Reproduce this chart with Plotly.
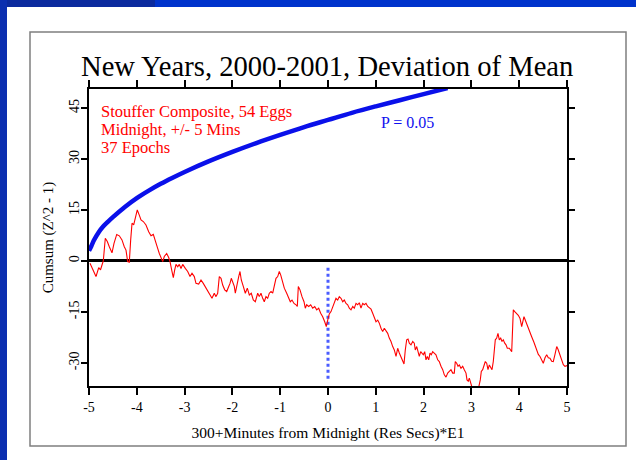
import plotly.graph_objects as go

# ---------------- data ----------------
# red cumulative deviation trace (x in minutes from midnight)
red_x = [-4.979, -4.937, -4.895, -4.854, -4.797, -4.759, -4.728, -4.701, -4.659, -4.617, -4.575,
         -4.519, -4.477, -4.420, -4.366, -4.310, -4.262, -4.226, -4.191, -4.157, -4.128, -4.100,
         -4.065, -4.031, -3.990, -3.948, -3.912, -3.864, -3.808, -3.751, -3.703, -3.655, -3.613,
         -3.563, -3.529, -3.494, -3.458, -3.425, -3.375, -3.333, -3.305, -3.264, -3.236, -3.207,
         -3.180, -3.144, -3.111, -3.075, -3.040, -2.985, -2.935, -2.887, -2.845, -2.797, -2.762,
         -2.705, -2.657, -2.609, -2.552, -2.483, -2.427, -2.379, -2.343, -2.308, -2.274, -2.238,
         -2.203, -2.161, -2.119, -2.077, -2.050, -2.023, -1.994, -1.960, -1.939, -1.904, -1.868,
         -1.841, -1.814, -1.772, -1.730, -1.688, -1.646, -1.605, -1.563, -1.521, -1.471, -1.437,
         -1.402, -1.366, -1.333, -1.297, -1.262, -1.228, -1.192, -1.157, -1.123, -1.088, -1.052,
         -1.019, -0.990, -0.962, -0.914, -0.864, -0.822, -0.789, -0.753, -0.711, -0.669, -0.642,
         -0.621, -0.586, -0.544, -0.502, -0.475, -0.446, -0.404, -0.362, -0.320, -0.278, -0.236,
         -0.195, -0.153, -0.111, -0.069, -0.036, -0.006, 0.027, 0.063, 0.098, 0.132, 0.167,
         0.203, 0.236, 0.272, 0.308, 0.341, 0.377, 0.412, 0.446, 0.481, 0.517, 0.550,
         0.586, 0.621, 0.655, 0.690, 0.726, 0.759, 0.795, 0.831, 0.864, 0.900, 0.935,
         0.969, 1.004, 1.040, 1.073, 1.109, 1.144, 1.178, 1.213, 1.249, 1.282, 1.318,
         1.354, 1.387, 1.423, 1.458, 1.492, 1.527, 1.563, 1.590, 1.617, 1.646, 1.674,
         1.701, 1.736, 1.772, 1.805, 1.826, 1.856, 1.883, 1.910, 1.939, 1.967, 1.994,
         2.023, 2.050, 2.077, 2.107, 2.134, 2.161, 2.190, 2.224, 2.259, 2.295, 2.328,
         2.364, 2.400, 2.433, 2.469, 2.504, 2.538, 2.573, 2.609, 2.642, 2.663, 2.692,
         2.720, 2.747, 2.782, 2.818, 2.851, 2.887, 2.908, 2.935, 2.956, 2.992, 3.013,
         3.061, 3.132, 3.186, 3.207, 3.236, 3.264, 3.291, 3.320, 3.347, 3.375, 3.404,
         3.431, 3.458, 3.479, 3.500, 3.529, 3.556, 3.584, 3.613, 3.640, 3.667, 3.697,
         3.724, 3.751, 3.793, 3.843, 3.877, 3.912, 3.948, 3.981, 4.017, 4.052, 4.100,
         4.157, 4.205, 4.261, 4.310, 4.366, 4.400, 4.435, 4.471, 4.504, 4.540, 4.575,
         4.609, 4.644, 4.680, 4.713, 4.749, 4.785, 4.812, 4.839, 4.889, 4.923, 4.958,
         5.000]
red_y = [-0.7, -2.0, -3.0, -4.6, -2.0, -2.6, -1.2, 0.0, 6.7, 5.7, 4.2,
         2.4, 5.2, 7.8, 7.4, 6.2, 4.2, 3.2, -0.2, -0.4, 6.2, 11.1,
         10.6, 12.5, 15.0, 13.5, 12.1, 11.6, 10.6, 8.6, 7.4, 7.8, 6.2,
         3.7, 2.2, 0.8, -0.2, 1.3, 2.2, 1.0, -0.2, -3.1, -4.9, -2.6,
         -1.0, -1.7, -1.0, -2.2, -1.0, -2.2, -3.1, -4.6, -3.6, -4.6, -6.6,
         -6.8, -5.6, -6.6, -8.0, -9.7, -11.0, -9.5, -10.5, -9.5, -4.6, -5.1,
         -7.1, -8.5, -9.0, -7.5, -6.6, -5.1, -6.1, -7.5, -9.5, -6.6, -4.6,
         -3.1, -5.6, -7.5, -9.5, -8.0, -10.0, -9.5, -11.5, -12.0, -9.5, -10.5,
         -9.5, -11.0, -12.0, -10.5, -11.0, -9.5, -9.0, -9.5, -7.5, -5.1, -4.6,
         -3.1, -4.1, -5.6, -8.0, -9.5, -11.0, -12.0, -11.5, -12.5, -12.9, -13.4,
         -7.5, -8.5, -10.5, -12.0, -13.9, -12.9, -13.4, -12.9, -13.9, -13.4, -14.4,
         -13.9, -15.4, -16.4, -17.9, -19.3, -17.4, -15.6, -14.9, -13.4, -12.5, -11.0,
         -11.5, -10.5, -11.0, -12.0, -11.5, -12.5, -12.9, -13.9, -14.4, -13.4, -13.9,
         -12.5, -12.9, -12.3, -13.9, -12.5, -12.9, -12.5, -13.4, -13.9, -14.2, -15.4,
         -16.9, -17.9, -17.4, -18.3, -19.8, -20.8, -19.8, -20.5, -21.3, -22.7, -23.7,
         -25.2, -26.2, -28.1, -25.7, -27.1, -28.1, -29.1, -30.3, -26.2, -23.2, -23.0,
         -24.2, -24.7, -23.7, -24.2, -26.2, -25.2, -26.7, -28.1, -26.7, -27.1, -27.6,
         -26.7, -29.1, -28.1, -29.1, -27.1, -27.6, -26.7, -27.1, -27.6, -29.1, -29.6,
         -31.0, -32.0, -33.5, -34.2, -33.0, -32.5, -32.0, -33.0, -33.0, -29.6, -30.1,
         -31.0, -30.6, -31.6, -31.0, -32.0, -33.0, -35.0, -35.4, -34.5, -36.0, -37.2,
         -38.0, -38.5, -35.0, -32.5, -32.0, -31.0, -29.6, -30.1, -32.0, -30.6, -31.6,
         -32.0, -29.6, -26.2, -23.2, -22.7, -21.3, -23.2, -22.7, -23.7, -23.2, -24.2,
         -24.7, -25.7, -25.7, -26.7, -14.4, -15.0, -15.4, -16.0, -16.9, -19.3, -16.4,
         -18.3, -20.0, -22.3, -24.0, -26.2, -27.5, -28.1, -29.0, -30.1, -28.5, -27.6,
         -28.5, -28.6, -29.5, -29.6, -27.5, -25.2, -26.0, -27.1, -29.6, -30.5, -31.0,
         -30.8]

# P = 0.05 threshold curve
blue_x = [-5.0, -4.95, -4.9, -4.8, -4.7, -4.6, -4.5, -4.25, -4.0, -3.75, -3.5, -3.25,
          -3.0, -2.5, -2.0, -1.5, -1.0, -0.5, 0.0, 0.5, 1.0, 1.5, 2.0, 2.5]
blue_y = [3.0, 4.4, 6.0, 8.4, 10.2, 11.6, 12.9, 15.9, 18.5, 20.7, 22.7, 24.5,
          26.2, 29.3, 32.1, 34.7, 37.1, 39.4, 41.5, 43.6, 45.5, 47.3, 49.1, 50.9]

# midnight marker
marker_x = [0, 0]
marker_y = [-2, -35]

x_tick_vals = [-5, -4, -3, -2, -1, 0, 1, 2, 3, 4, 5]
x_tick_text = ["-5", "-4", "-3", "-2", "-1", "0", "1", "2", "3", "4", "5"]
y_tick_vals = [-30, -15, 0, 15, 30, 45]
y_tick_text = ["-30", "-15", "0", "15", "30", "45"]

title_text = "New Years, 2000-2001, Deviation of Mean"
info_lines = ["Stouffer Composite, 54 Eggs", "Midnight, +/- 5 Mins", "37 Epochs"]
p_label = "P = 0.05"
x_title = "300+Minutes from Midnight (Res Secs)*E1"
y_title = "Cumsum (Z^2 - 1)"

# ---------------- figure ----------------
W, H = 636, 460
L, R, T, B = 89, 69, 89, 74
PW, PH = W - L - R, H - T - B
SERIF = "Liberation Serif, Times New Roman, serif"


def px_x(p):
    return (p - L) / PW


def px_y(p):
    return (H - B - p) / PH


fig = go.Figure()
fig.add_trace(go.Scatter(x=marker_x, y=marker_y, mode="lines",
                         line=dict(color="#4a5cff", width=3, dash="dot"),
                         hoverinfo="skip", showlegend=False))
fig.add_trace(go.Scatter(x=red_x, y=red_y, mode="lines",
                         line=dict(color="#ff0000", width=1.1),
                         showlegend=False))
fig.add_trace(go.Scatter(x=blue_x, y=blue_y, mode="lines", line_shape="spline",
                         line=dict(color="#0a10ea", width=4.5),
                         showlegend=False))

shapes = [
    # slide background stripes
    dict(type="rect", xref="paper", yref="paper", x0=px_x(0), x1=px_x(W), y0=px_y(7), y1=px_y(0),
         fillcolor="#0033cc", line=dict(width=0), layer="below"),
    dict(type="rect", xref="paper", yref="paper", x0=px_x(0), x1=px_x(155), y0=px_y(7), y1=px_y(0),
         fillcolor="#0b2a9e", line=dict(width=0), layer="below"),
    dict(type="rect", xref="paper", yref="paper", x0=px_x(0), x1=px_x(7), y0=px_y(H), y1=px_y(0),
         fillcolor="#0b2fb0", line=dict(width=0), layer="below"),
    # gray frame
    dict(type="rect", xref="paper", yref="paper", x0=px_x(30), x1=px_x(626), y0=px_y(446), y1=px_y(32),
         line=dict(color="#7f7f7f", width=1.5), layer="below"),
]

annotations = [
    dict(text=title_text, xref="paper", yref="paper", x=px_x(327), y=px_y(67),
         showarrow=False, font=dict(family=SERIF, size=28.6, color="black"),
         xanchor="center", yanchor="middle"),
    dict(text=p_label, xref="paper", yref="paper", x=px_x(379), y=px_y(122),
         showarrow=False, font=dict(family=SERIF, size=16, color="#1010ee"),
         xanchor="left", yanchor="middle"),
]
for i, line in enumerate(info_lines):
    annotations.append(dict(text=line, xref="paper", yref="paper", x=px_x(99), y=px_y(111 + 18 * i),
                            showarrow=False, font=dict(family=SERIF, size=16.5, color="#ff0000"),
                            xanchor="left", yanchor="middle"))

fig.update_layout(
    width=W, height=H,
    margin=dict(l=L, r=R, t=T, b=B),
    paper_bgcolor="white", plot_bgcolor="white",
    showlegend=False,
    shapes=shapes,
    annotations=annotations,
    font=dict(family=SERIF, color="black"),
    xaxis=dict(range=[-5, 5], tickvals=x_tick_vals, ticktext=x_tick_text,
               showgrid=False, zeroline=False, showline=True, linecolor="black", linewidth=1.5,
               mirror="ticks", ticks="outside", ticklen=7, tickwidth=1.5, tickcolor="black",
               tickfont=dict(family=SERIF, size=14, color="black"),
               title=dict(text=x_title, font=dict(family=SERIF, size=15.5, color="black"), standoff=14)),
    yaxis=dict(range=[-36.8, 50.6], tickvals=y_tick_vals, ticktext=y_tick_text, tickangle=-90,
               showgrid=False, zeroline=True, zerolinecolor="black", zerolinewidth=2.5,
               showline=True, linecolor="black", linewidth=1.5,
               mirror="ticks", ticks="outside", ticklen=6, tickwidth=1.5, tickcolor="black",
               tickfont=dict(family=SERIF, size=14, color="black"), ticklabelstandoff=-3,
               title=dict(text=y_title, font=dict(family=SERIF, size=15, color="black"), standoff=9)),
)

fig.write_html("out.html", config={"displayModeBar": False},
               post_script="document.body.style.margin='0';")
